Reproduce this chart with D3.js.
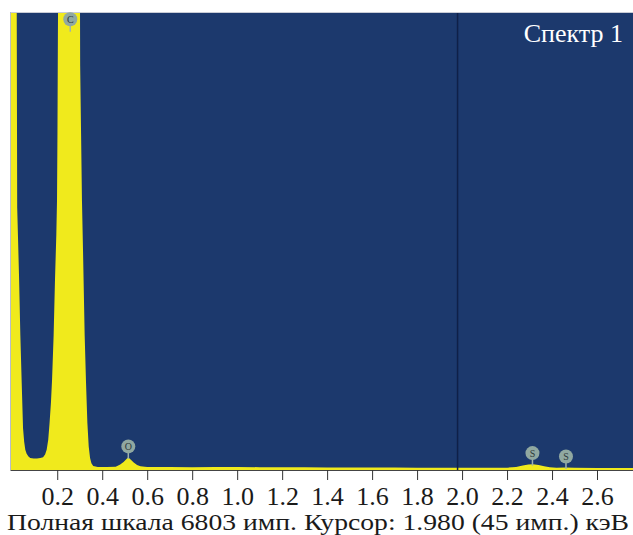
<!DOCTYPE html>
<html>
<head>
<meta charset="utf-8">
<script src="https://cdn.jsdelivr.net/npm/d3@7"></script>
<style>
  body { margin: 0; background: #fff; }
  svg { display: block; }
</style>
</head>
<body>
<svg width="633" height="535"></svg>
<script>
"use strict";

// spectrum (keV, counts); peaks above full scale are clipped
const energy = [-0.01, 0.000, 0.016, 0.019, 0.022, 0.030, 0.036, 0.042, 0.048, 0.053,
  0.058, 0.064, 0.072, 0.080, 0.095, 0.110, 0.125, 0.137, 0.146, 0.153,
  0.160, 0.166, 0.172, 0.177, 0.184, 0.190, 0.196, 0.199, 0.201, 0.203,
  0.206, 0.215, 0.260, 0.296, 0.300, 0.302, 0.306, 0.310, 0.315, 0.322,
  0.328, 0.334, 0.340, 0.346, 0.352, 0.360, 0.380, 0.420, 0.460, 0.480,
  0.495, 0.508, 0.516, 0.525, 0.540, 0.555, 0.570, 0.600, 0.700, 0.800,
  0.900, 1.000, 1.100, 1.200, 1.300, 1.400, 1.500, 1.600, 1.700, 1.800,
  1.900, 2.000, 2.100, 2.200, 2.240, 2.270, 2.295, 2.315, 2.340, 2.365,
  2.390, 2.420, 2.460, 2.500, 2.600, 2.700, 2.760];
const counts = [20000, 20000, 20000, 9000, 3900, 2900, 2000, 1300, 620, 420,
  300, 240, 200, 180, 170, 170, 180, 190, 230, 300,
  450, 700, 1000, 1340, 2000, 2820, 3500, 4000, 5000, 6500,
  9000, 20000, 30000, 20000, 9000, 6000, 5000, 4000, 3200, 2000,
  1300, 700, 350, 180, 100, 60, 45, 45, 50, 80,
  120, 165, 190, 160, 110, 75, 55, 45, 45, 42,
  44, 45, 42, 40, 40, 38, 38, 36, 36, 35,
  35, 35, 35, 35, 45, 65, 80, 85, 75, 55,
  40, 35, 36, 32, 30, 28, 28];

const fullScale = 6803;
const cursorKeV = 1.980;

// element markers
const lineLabels = ["C", "O", "S", "S"];
const lineEnergy = [0.258, 0.516, 2.313, 2.462];
const lineTip = [6510, 165, 65, 15];

const tickValues = [0.2, 0.4, 0.6, 0.8, 1.0, 1.2, 1.4, 1.6, 1.8, 2.0, 2.2, 2.4, 2.6];

const FONT = "'Liberation Serif'";

const svg = d3.select("svg");
const pLeft = 10, pRight = 633, pTop = 12, pBottom = 470;

const x = d3.scaleLinear().domain([-0.01, 2.76]).range([pLeft, pRight]);
const y = d3.scaleLinear().domain([0, fullScale]).range([pBottom, pTop]);

svg.append("clipPath").attr("id", "plot")
  .append("rect")
  .attr("x", pLeft).attr("y", pTop)
  .attr("width", pRight - pLeft).attr("height", pBottom - pTop);

svg.append("rect")
  .attr("x", pLeft).attr("y", pTop)
  .attr("width", pRight - pLeft).attr("height", pBottom - pTop)
  .attr("fill", "#1c396d");

const pts = energy.map((e, i) => [e, counts[i]]);
const area = d3.area()
  .x(d => x(d[0]))
  .y0(y(0))
  .y1(d => y(Math.min(d[1], fullScale * 1.2)));

svg.append("path")
  .datum(pts)
  .attr("clip-path", "url(#plot)")
  .attr("d", area)
  .attr("fill", "#f0ea1c");

// cursor
svg.append("line")
  .attr("x1", x(cursorKeV)).attr("x2", x(cursorKeV))
  .attr("y1", pTop).attr("y2", pBottom)
  .attr("stroke", "#0f2048")
  .attr("stroke-width", 1.5);

// frame
svg.append("line")
  .attr("x1", pLeft).attr("x2", pRight).attr("y1", pTop + 0.5).attr("y2", pTop + 0.5)
  .attr("stroke", "#c9ccd6");
svg.append("line")
  .attr("x1", pLeft + 0.5).attr("x2", pLeft + 0.5).attr("y1", pTop).attr("y2", pBottom)
  .attr("stroke", "#b8bcc8");

// markers
const mk = svg.append("g");
lineLabels.forEach((lab, i) => {
  const cx = x(lineEnergy[i]);
  const tip = y(lineTip[i]);
  const cy = tip - 12.5;
  mk.append("line")
    .attr("x1", cx).attr("x2", cx).attr("y1", cy).attr("y2", tip)
    .attr("stroke", "#9fb3ad").attr("stroke-width", 1.5);
  mk.append("circle")
    .attr("cx", cx).attr("cy", cy).attr("r", 7)
    .attr("fill", "#90a8a1");
  mk.append("text")
    .attr("x", cx).attr("y", cy + 3.5)
    .attr("text-anchor", "middle")
    .style("font-family", FONT)
    .style("font-size", "10px")
    .attr("fill", "#2d3a3a")
    .text(lab);
});

// axis
const axis = d3.axisBottom(x)
  .tickValues(tickValues)
  .tickFormat(d3.format(".1f"))
  .tickSize(10)
  .tickSizeOuter(0)
  .tickPadding(7);

const ax = svg.append("g")
  .attr("transform", `translate(0,${pBottom})`)
  .call(axis)
  .attr("font-family", null)
  .attr("font-size", null);
ax.select(".domain").attr("stroke", "#444");
ax.selectAll(".tick line").attr("stroke", "#333");
ax.selectAll(".tick text")
  .style("font-family", FONT)
  .style("font-size", "26px")
  .attr("fill", "#1a1a1a");

svg.append("text")
  .attr("x", 623).attr("y", 42)
  .attr("text-anchor", "end")
  .style("font-family", FONT)
  .style("font-size", "26px")
  .attr("fill", "#ffffff")
  .text("Спектр 1");

svg.append("text")
  .attr("x", 7).attr("y", 530)
  .attr("textLength", 622)
  .attr("lengthAdjust", "spacingAndGlyphs")
  .style("font-family", FONT)
  .style("font-size", "23px")
  .attr("fill", "#1a1a1a")
  .text("Полная шкала " + fullScale + " имп. Курсор: " + cursorKeV.toFixed(3) + " (45 имп.) кэВ");
</script>
</body>
</html>
